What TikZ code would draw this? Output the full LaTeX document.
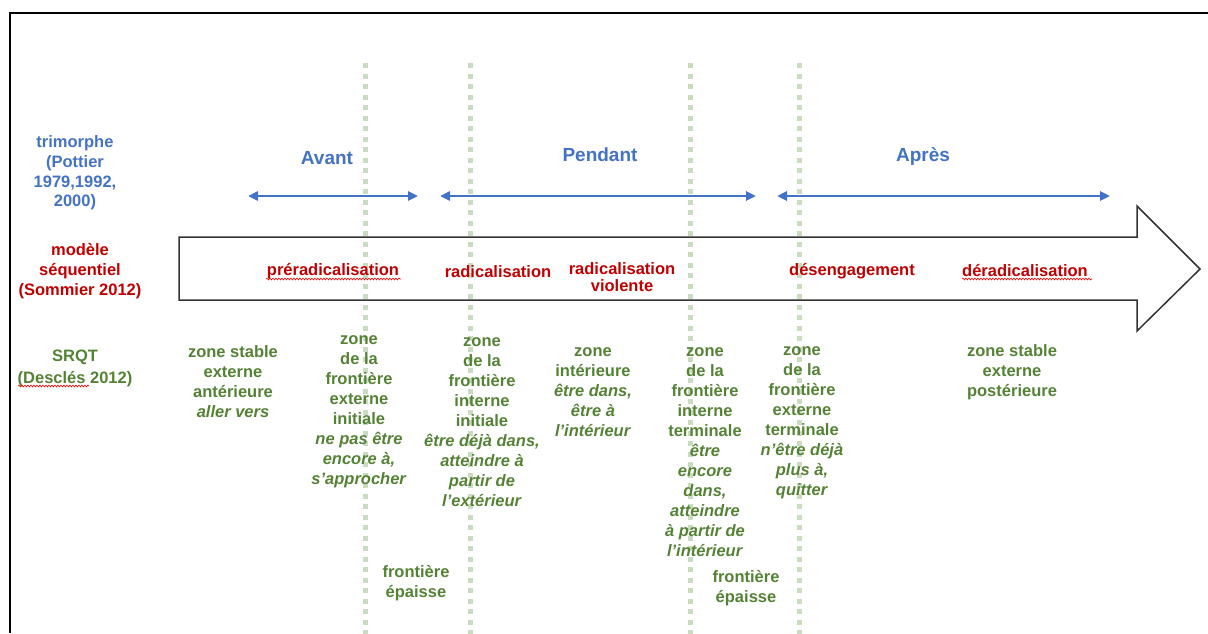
\documentclass[tikz,border=0pt]{standalone}
\usepackage{fontspec}
\setmainfont{Liberation Sans}
\usetikzlibrary{arrows.meta,decorations.pathmorphing}
\definecolor{phaseblue}{HTML}{4472C4}
\definecolor{seqred}{HTML}{C00000}
\definecolor{zonegreen}{HTML}{548235}
\definecolor{bordergreen}{HTML}{C9DCC0}
\definecolor{outline}{HTML}{333333}
\begin{document}
\begin{tikzpicture}[x=1pt,y=-1pt,
  phase/.style={text=phaseblue,font=\fontsize{19}{22}\selectfont\bfseries},
  rowlabel/.style={align=center,font=\fontsize{16.5}{19.7}\selectfont\bfseries},
  seq/.style={text=seqred,align=center,font=\fontsize{16.5}{17}\selectfont\bfseries},
  zonetext/.style={text=zonegreen,align=center,inner sep=0pt,font=\fontsize{16.5}{20}\selectfont\bfseries},
  span/.style={draw=phaseblue,line width=2.8pt,{Triangle[length=10pt,width=9pt]}-{Triangle[length=10pt,width=9pt]}},
  boundary/.style={draw=bordergreen,line width=5pt,dash pattern=on 5pt off 5.5pt},
  spell/.style={draw=red,line width=0.6pt,decorate,decoration={snake,amplitude=0.9pt,segment length=3pt}}
]
\useasboundingbox (0,0) rectangle (1208,633);

% frame
\draw[line width=2pt] (10,633) -- (10,13) -- (1208,13);

% sequential arrow
\draw[draw=outline,line width=1.5pt,fill=white]
  (179,237) -- (1137,237) -- (1137,206) -- (1200,269) -- (1137,331)
  -- (1137,300) -- (179,300) -- cycle;

% thick boundaries
\foreach \bx/\bn in {365/b1,470/b2,690/b3,799/b4}{
  \coordinate (\bn top) at (\bx,63);
  \coordinate (\bn bot) at (\bx,640);
  \draw[boundary] (\bn top) -- (\bn bot);
}

% row labels
\node[rowlabel,text=phaseblue] (trimorphe) at (75,173) {trimorphe\\(Pottier\\1979,1992,\\2000)};
\node[rowlabel,text=seqred] (sequentiel) at (80,271) {modèle\\séquentiel\\(Sommier 2012)};
\node[rowlabel,text=zonegreen,font=\fontsize{16.5}{22}\selectfont\bfseries] (srqt) at (75,368) {SRQT\\(Desclés 2012)};

% phases
\node[phase] (avant) at (327,158) {Avant};
\node[phase] (pendant) at (600,155) {Pendant};
\node[phase] (apres) at (923,156) {Après};

\coordinate (avantL) at (248,196);
\coordinate (avantR) at (418,196);
\coordinate (pendantL) at (440,196);
\coordinate (pendantR) at (756,196);
\coordinate (apresL) at (777,196);
\coordinate (apresR) at (1110,196);
\draw[span] (avantL) -- (avantR);
\draw[span] (pendantL) -- (pendantR);
\draw[span] (apresL) -- (apresR);

% sequential stages
\node[seq] (prerad) at (333,271) {préradicalisation};
\node[seq] (rad) at (498,272) {radicalisation};
\node[seq] (radviol) at (622,277.5) {radicalisation\\violente};
\node[seq] (deseng) at (852,271) {désengagement};
\node[seq] (derad) at (1025,271) {déradicalisation};

% spelling marks
\coordinate (sp1a) at (266,279); \coordinate (sp1b) at (401,279);
\coordinate (sp2a) at (962,279); \coordinate (sp2b) at (1092,279);
\coordinate (sp3a) at (18,386);  \coordinate (sp3b) at (89,386);
\draw[spell] (sp1a) -- (sp1b);
\draw[spell] (sp2a) -- (sp2b);
\draw[spell] (sp3a) -- (sp3b);

% zones
\node[zonetext] (z1) at (233,382) {zone stable\\externe\\antérieure\\\textit{aller vers}};
\node[zonetext] (z2) at (359,412) {zone\\de la\\frontière\\externe\\initiale\\\textit{ne pas être}\\\textit{encore à,}\\\textit{s’approcher}};
\node[zonetext] (z3) at (482,422) {zone\\de la\\frontière\\interne\\initiale\\\textit{être déjà dans,}\\\textit{atteindre à}\\\textit{partir de}\\\textit{l’extérieur}};
\node[zonetext] (z4) at (593,392) {zone\\intérieure\\\textit{être dans,}\\\textit{être à}\\\textit{l’intérieur}};
\node[zonetext] (z5) at (705,452) {zone\\de la\\frontière\\interne\\terminale\\\textit{être}\\\textit{encore}\\\textit{dans,}\\\textit{atteindre}\\\textit{à partir de}\\\textit{l’intérieur}};
\node[zonetext] (z6) at (802,423) {zone\\de la\\frontière\\externe\\terminale\\\textit{n’être déjà}\\\textit{plus à,}\\\textit{quitter}};
\node[zonetext] (z7) at (1012,372) {zone stable\\externe\\postérieure};
\node[zonetext] (f1) at (416,583) {frontière\\épaisse};
\node[zonetext] (f2) at (746,588) {frontière\\épaisse};
\end{tikzpicture}
\end{document}
